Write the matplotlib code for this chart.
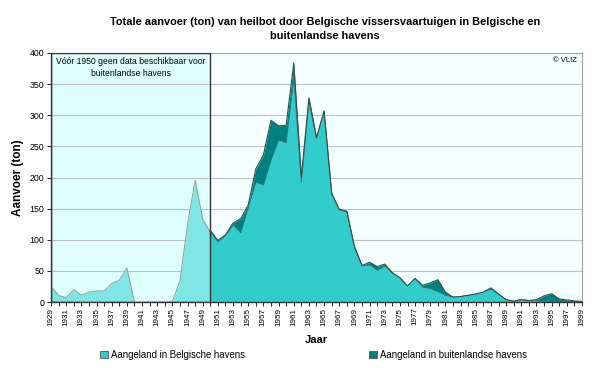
import numpy as np
import matplotlib
matplotlib.use("Agg")
import matplotlib.pyplot as plt
from matplotlib.patches import Rectangle, Patch

plt.rcParams['font.family'] = ['Liberation Sans', 'DejaVu Sans']

years = np.arange(1929, 2000)
# aangeland in Belgische havens (ton)
belgisch = [25, 11, 7, 20, 11, 16, 18, 18, 30, 35,
            55, 0, 0, 0, 0, 0, 1, 34, 125, 196,
            133, 112, 97, 107, 124, 111, 152, 193, 188, 228,
            260, 256, 359, 193, 322, 263, 306, 174, 148, 145,
            89, 58, 60, 51, 58, 47, 39, 26, 38, 24,
            22, 17, 11, 8, 9, 11, 13, 16, 21, 13,
            4, 1.5, 4, 2.5, 2, 1, 0.5, 1, 0.5, 0, 0]
# aangeland in buitenlandse havens (ton), geen data voor 1950
buitenlands = [0] * 21 + [3, 2, 1, 3, 23, 4, 21, 48, 64,
                          23, 28, 25, 8, 6, 1, 1, 1, 1, 1,
                          0, 1, 4, 6, 3, 0, 0, 0, 0, 3,
                          9, 19, 5, 0, 0, 0, 0, 0, 2, 0,
                          0, 0, 0, 0, 2, 9, 13, 4, 3, 2, 1]
belgisch = np.array(belgisch, dtype=float)
buitenlands = np.array(buitenlands, dtype=float)
totaal = belgisch + buitenlands

fig = plt.figure(figsize=(6, 3.68), dpi=100)
ax = fig.add_axes([0.085, 0.179, 0.885, 0.677])
ax.set_facecolor('#F5FFFF')

# left region: no foreign data before 1950
ax.add_patch(Rectangle((1929, 0), 21, 400, facecolor='#DFFFFF', edgecolor='none', zorder=0.5))

for y in range(50, 401, 50):
    ax.axhline(y, color='#C0C0C0', lw=0.8, zorder=1)

voor = years <= 1950
na = years >= 1950
ax.fill_between(years[voor], 0, belgisch[voor], color='#80E5E5', lw=0, zorder=2)
ax.plot(years[voor], belgisch[voor], color='#8CA0A0', lw=0.7, zorder=3)
ax.fill_between(years[na], 0, belgisch[na], color='#33CCCC', lw=0, zorder=2)
ax.fill_between(years[na], belgisch[na], totaal[na], color='#008080', lw=0, zorder=2)
ax.plot(years[na], belgisch[na], color='#2A7F7F', lw=0.6, zorder=3)
ax.plot(years[na], totaal[na], color='#2F4F4F', lw=0.8, zorder=3)

ax.add_patch(Rectangle((1929, 0), 21, 400, facecolor='none', edgecolor='#333333', lw=1, zorder=4))

ax.set_xlim(1929, 1999)
ax.set_ylim(0, 400)
ax.set_yticks(range(0, 401, 50))
ax.set_xticks(range(1929, 2000, 2))
ax.set_xticks(range(1929, 2000), minor=True)
ax.tick_params(axis='x', labelrotation=90, labelsize=5.8, length=3, width=0.6, pad=1)
ax.tick_params(axis='x', which='minor', length=3, width=0.6)
ax.tick_params(axis='y', labelsize=6.3, length=3, width=0.6, pad=2)
for s in ['top', 'right']:
    ax.spines[s].set_color('#A0A0A0')
for s in ['left', 'bottom']:
    ax.spines[s].set_color('#333333')
    ax.spines[s].set_linewidth(1)

ax.set_xlabel('Jaar', fontsize=8, fontweight='bold', labelpad=7)
ax.set_ylabel('Aanvoer (ton)', fontsize=8.5, fontweight='bold', labelpad=4)

ax.text(1939.5, 394, 'Vóór 1950 geen data beschikbaar voor\nbuitenlandse havens',
        ha='center', va='top', fontsize=6.2, linespacing=1.45, zorder=5)
ax.text(1998.3, 393, '© VLIZ', ha='right', va='top', fontsize=5.5, zorder=5)

fig.text(0.542, 0.955, 'Totale aanvoer (ton) van heilbot door Belgische vissersvaartuigen in Belgische en\nbuitenlandse havens',
         ha='center', va='top', fontsize=7.9, fontweight='bold', linespacing=1.5)

handles = [Patch(facecolor='#33CCCC', edgecolor='#555555', lw=0.6),
           Patch(facecolor='#008080', edgecolor='#555555', lw=0.6)]
fig.legend(handles, ['Aangeland in Belgische havens', 'Aangeland in buitenlandse havens'],
           loc='center', bbox_to_anchor=(0.5225, 0.035), ncol=2, frameon=False,
           fontsize=6.9, columnspacing=13, handlelength=0.8, handleheight=0.8, handletextpad=0.3)

fig.savefig('out.png', dpi=100)
